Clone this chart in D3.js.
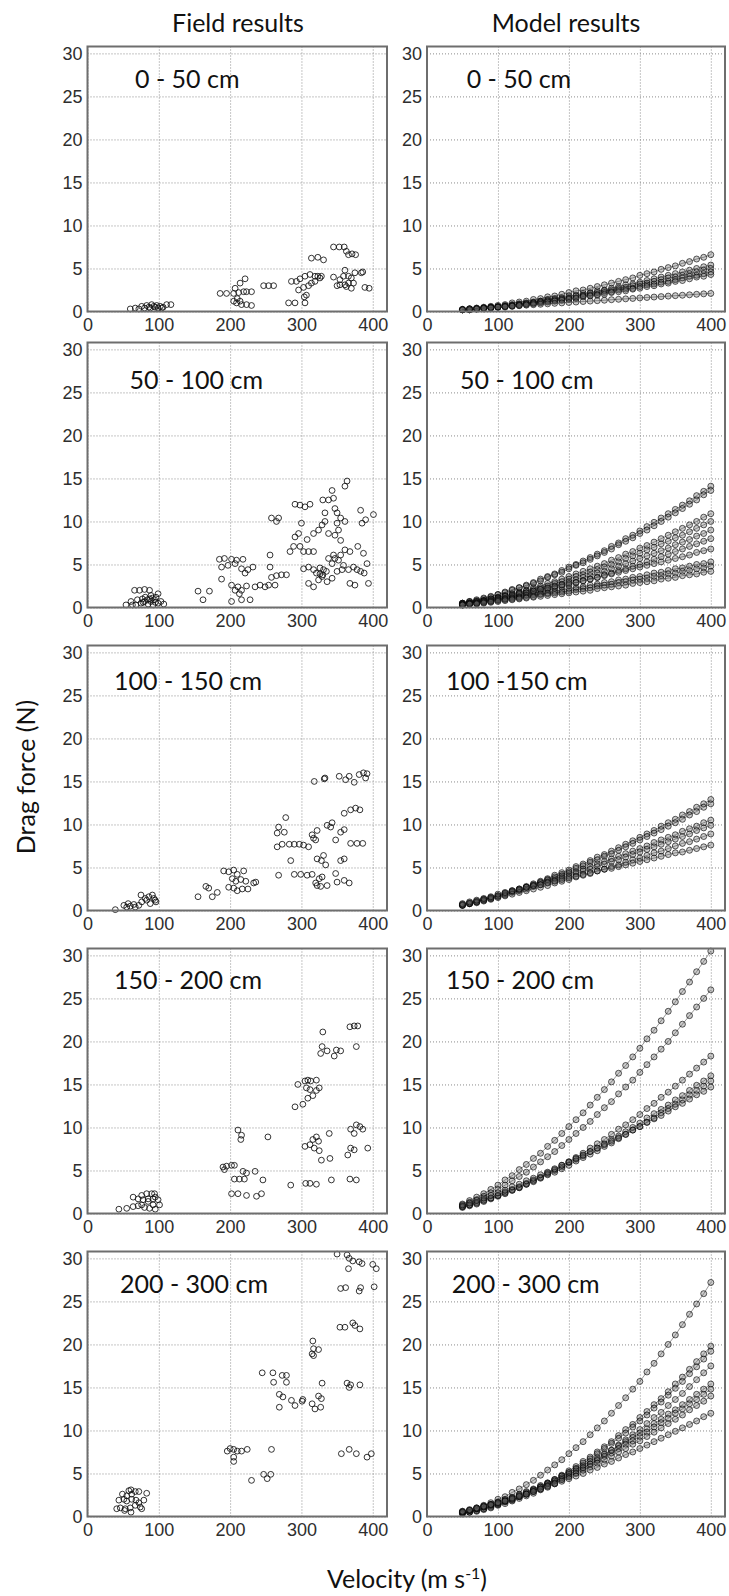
<!DOCTYPE html>
<html>
<head>
<meta charset="UTF-8">
<script src="https://cdn.jsdelivr.net/npm/d3@7/dist/d3.min.js"></script>
<style>
body { margin: 0; background: #fff; }
.tick text { font-family: "Liberation Sans", Arial, sans-serif; font-size: 18px; fill: #2e2e2e; }
.lbl { font-family: Lato, "Open Sans", sans-serif; fill: #111; }
</style>
</head>
<body>
<svg id="chart" width="729" height="1596"></svg>
<script>
// ticks and labels
const velTicks = [0, 100, 200, 300, 400];
const forceTicks = [0, 5, 10, 15, 20, 25, 30];
const fieldLabels = ["0 - 50 cm", "50 - 100 cm", "100 - 150 cm", "150 - 200 cm", "200 - 300 cm"];
const modelLabels = ["0 - 50 cm", "50 - 100 cm", "100 -150 cm", "150 - 200 cm", "200 - 300 cm"];

// model velocities (one marker every 10 m/s)
const speeds = [50,60,70,80,90,100,110,120,130,140,150,160,170,180,190,200,210,220,230,240,250,260,270,280,290,300,310,320,330,340,350,360,370,380,390,400];

// field measurements [velocity, drag force]
const field0 = [[60,0.3],[67,0.4],[72,0.3],[76,0.6],[80,0.4],[83,0.7],[86,0.5],[90,0.8],[93,0.6],[97,0.7],[99,0.4],[102,0.6],[106,0.5],[111,0.8],[117,0.8],[88,0.4],[95,0.5],[104,0.4],
[186,2.1],[195,2.1],[205,2.1],[212,2.2],[207,2.7],[214,3.3],[221,3.8],[219,2.3],[223,2.3],[230,2.3],[205,1.2],[209,1.0],[216,0.8],[223,0.8],[230,0.7],[214,1.2],[210,1.5],[247,3.0],[254,3.0],[261,3.0],
[282,1.0],[291,1.0],[305,1.0],[304,1.7],[307,1.9],[296,2.5],[303,2.8],[310,3.0],[314,3.3],[286,3.5],[293,3.5],[298,3.8],[305,4.1],[312,4.3],[319,4.1],[323,4.1],[328,4.1],[326,3.9],[319,3.5],[314,6.2],[323,6.3],[331,6.0],[345,7.5],[353,7.5],[360,7.5],[363,7.0],[371,6.7],[376,6.6],[366,6.6],[345,4.0],[354,3.7],[359,4.1],[366,4.1],[370,3.9],[375,4.5],[384,4.5],[361,4.8],[354,3.1],[361,3.1],[366,3.3],[370,2.7],[363,2.9],[373,3.3],[350,3.0],[389,2.8],[386,4.6],[395,2.7]];

const field1 = [[54,0.3],[61,0.7],[66,2.0],[73,2.0],[80,2.1],[87,2.0],[70,0.9],[75,0.5],[80,0.7],[85,0.4],[89,0.7],[94,0.9],[99,0.5],[103,0.7],[107,0.4],[81,1.2],[89,1.4],[96,1.2],[87,1.0],[77,1.0],[92,0.3],[68,0.3],[99,1.6],[63,0.3],[84,0.9],[91,1.1],[78,0.6],[95,0.6],
[155,1.9],[162,0.9],[171,1.9],[188,3.3],[185,5.6],[192,5.7],[202,5.6],[209,5.5],[218,5.6],[188,4.7],[197,4.9],[207,5.1],[216,4.5],[225,4.4],[232,4.7],[221,4.0],[202,2.6],[211,2.4],[216,2.0],[223,2.5],[207,2.0],[213,1.6],[202,0.7],[216,0.9],[228,0.9],[235,2.4],[242,2.6],
[249,2.4],[254,2.6],[258,3.5],[256,4.7],[256,6.1],[265,3.7],[272,3.8],[279,3.8],[258,10.4],[265,10.0],[268,10.4],[263,2.6],
[284,6.5],[289,7.1],[291,8.2],[291,12.0],[298,11.9],[305,11.7],[312,12.0],[300,9.8],[296,8.6],[303,6.5],[310,6.5],[317,6.5],[298,7.1],[308,7.9],[317,8.6],[324,9.0],[329,9.6],[333,10.0],[303,4.5],[310,4.7],[317,4.4],[321,4.0],[326,3.9],[331,4.4],[310,2.8],[317,2.4],[324,3.2],[329,3.6],[336,3.0],[343,3.4],[330,12.5],[338,12.5],[345,12.7],[343,13.6],[347,11.5],[350,11.0],[355,10.4],[361,10.0],[350,9.8],[361,14.1],[364,14.7],[338,8.6],[347,8.4],[352,9.0],[343,5.1],[347,5.7],[355,6.1],[361,6.7],[368,6.5],[359,4.9],[366,4.4],[373,4.7],[378,4.4],[383,4.2],[368,2.8],[375,2.6],[383,11.3],[385,9.8],[390,10.2],[379,7.1],[387,6.3],[394,2.8],[338,5.7],[345,6.1],[352,5.5],[357,4.4],[350,4.2],[355,7.8],[333,11.0],[401,10.8],[392,5.1],[388,4.0],[330,3.8],[326,4.6],[335,4.2]];

const field2 = [[39,0.1],[51,0.6],[57,0.8],[65,0.7],[72,0.6],[76,1.0],[83,1.2],[88,0.8],[93,1.4],[96,1.0],[75,1.8],[81,1.4],[86,1.6],[91,1.8],[95,1.2],[55,0.4],[60,0.5],[67,0.4],
[155,1.6],[166,2.8],[170,2.6],[175,1.6],[182,2.1],[191,4.6],[198,4.5],[205,4.7],[210,4.2],[219,4.6],[203,3.7],[208,3.4],[215,3.6],[222,3.4],[233,3.2],[198,2.7],[205,2.6],[210,2.3],[217,2.5],[225,2.5],[236,3.3],
[268,4.1],[266,9.0],[268,9.7],[278,10.8],[276,9.1],[266,7.4],[273,7.7],[283,7.7],[290,7.7],[297,7.7],[303,7.6],[310,7.4],[315,8.8],[317,8.4],[320,8.2],[322,9.3],[336,9.9],[341,9.7],[285,5.8],[290,4.2],[299,4.2],[308,4.1],[315,4.2],[320,3.2],[325,3.7],[329,3.9],[336,2.9],[322,2.9],[327,2.8],[322,6.0],[328,5.8],[331,6.4],[334,5.3],[348,4.3],[355,5.8],[360,6.0],[350,3.3],[360,3.5],[367,3.2],[318,15.0],[332,15.3],[333,15.4],[353,15.6],[362,15.2],[367,15.6],[374,14.9],[381,15.8],[392,15.9],[360,11.3],[369,11.7],[376,11.9],[382,11.7],[348,8.2],[355,9.1],[360,9.4],[369,7.8],[378,7.8],[386,7.8],[343,10.2],[387,16.0],[390,15.4]];

const field3 = [[44,0.5],[55,0.6],[64,0.8],[71,0.9],[64,1.9],[71,1.7],[76,2.1],[83,2.3],[90,2.3],[94,2.3],[78,1.6],[85,1.4],[92,1.7],[80,0.7],[87,0.6],[95,0.5],[101,1.0],[92,1.0],[76,1.0],[85,1.7],[95,1.9],[99,1.6],
[190,5.4],[192,5.1],[195,5.5],[202,5.6],[206,5.6],[218,4.9],[223,4.7],[235,4.9],[206,4.0],[213,4.0],[220,4.0],[246,3.9],[202,2.3],[211,2.3],[223,2.1],[237,2.0],[244,2.3],[211,9.7],[216,9.1],[215,8.6],[253,8.9],
[285,3.3],[306,3.5],[312,3.5],[321,3.4],[328,6.2],[340,6.4],[342,3.9],[368,4.0],[377,3.9],[291,12.4],[302,12.7],[295,15.0],[305,15.4],[309,15.5],[313,15.4],[321,15.5],[325,14.6],[307,14.6],[312,14.4],[316,13.7],[309,13.4],[321,14.3],[305,7.8],[312,8.0],[316,8.6],[321,8.9],[324,8.4],[318,7.6],[325,7.3],[330,21.1],[329,19.4],[327,18.6],[336,18.9],[346,18.3],[349,19.0],[355,18.9],[368,21.7],[374,21.8],[379,21.8],[377,19.4],[339,9.3],[369,9.8],[374,9.3],[377,10.3],[382,10.1],[386,9.8],[365,6.8],[369,7.6],[374,7.4],[393,7.6]];

const field4 = [[41,0.9],[46,1.0],[53,0.9],[60,1.0],[52,0.7],[61,0.5],[44,1.9],[51,2.0],[55,2.4],[58,3.0],[61,3.1],[67,2.9],[72,2.9],[83,2.7],[55,1.8],[62,2.0],[68,1.9],[72,1.6],[79,1.9],[74,1.1],[67,1.3],[76,0.9],[49,2.6],[62,2.6],
[196,7.6],[200,7.9],[205,7.8],[210,7.6],[216,7.6],[224,7.8],[205,6.9],[205,6.4],[230,4.2],[247,4.9],[252,4.4],[257,4.9],[258,7.8],[245,16.7],[260,16.7],[273,16.4],[279,16.4],[261,15.6],[279,15.6],[269,14.2],[274,13.9],[269,12.7],[286,13.5],[291,12.9],[301,13.4],[302,13.6],
[315,13.1],[319,12.5],[327,12.7],[324,14.0],[328,13.7],[329,15.5],[316,20.4],[317,19.5],[324,19.4],[315,18.9],[317,18.7],[350,30.5],[364,30.4],[367,30.0],[372,29.7],[381,29.6],[385,29.4],[366,28.8],[355,26.5],[362,26.6],[381,26.2],[383,26.6],[354,22.0],[361,22.0],[372,22.5],[375,22.2],[382,21.8],[364,15.5],[367,15.0],[369,15.3],[382,15.3],[356,7.3],[367,7.8],[377,7.3],[392,6.9],[400,29.3],[405,28.8],[402,26.7],[398,7.3]];

// model curves, drag force at each of the speeds above
const model0 = [
[0.2,0.3,0.4,0.5,0.6,0.7,0.8,1.0,1.1,1.2,1.4,1.5,1.7,1.8,2.0,2.2,2.4,2.5,2.7,2.9,3.1,3.3,3.5,3.7,3.9,4.2,4.4,4.6,4.9,5.1,5.3,5.6,5.8,6.1,6.3,6.6],
[0.2,0.3,0.3,0.4,0.5,0.6,0.7,0.8,0.9,1.0,1.1,1.2,1.4,1.5,1.6,1.8,1.9,2.1,2.2,2.4,2.5,2.7,2.9,3.1,3.2,3.4,3.6,3.8,4.0,4.2,4.4,4.6,4.8,5.0,5.2,5.4],
[0.2,0.2,0.3,0.4,0.5,0.5,0.6,0.7,0.8,0.9,1.0,1.2,1.3,1.4,1.5,1.6,1.8,1.9,2.1,2.2,2.4,2.5,2.7,2.8,3.0,3.2,3.3,3.5,3.7,3.9,4.0,4.2,4.4,4.6,4.8,5.0],
[0.2,0.2,0.3,0.4,0.4,0.5,0.6,0.7,0.8,0.9,1.0,1.1,1.2,1.3,1.4,1.5,1.6,1.8,1.9,2.0,2.2,2.3,2.5,2.6,2.7,2.9,3.1,3.2,3.4,3.5,3.7,3.9,4.1,4.2,4.4,4.6],
[0.2,0.2,0.3,0.3,0.4,0.5,0.5,0.6,0.7,0.8,0.9,1.0,1.1,1.2,1.3,1.4,1.5,1.7,1.8,1.9,2.0,2.2,2.3,2.4,2.6,2.7,2.9,3.0,3.2,3.3,3.5,3.6,3.8,4.0,4.1,4.3],
[0.26,0.32,0.37,0.42,0.47,0.53,0.58,0.63,0.68,0.74,0.79,0.84,0.89,0.95,1.0,1.05,1.1,1.16,1.21,1.26,1.31,1.37,1.42,1.47,1.52,1.58,1.63,1.68,1.73,1.79,1.84,1.89,1.94,2.0,2.05,2.1]];

const model1 = [
[0.5,0.7,0.9,1.1,1.3,1.5,1.8,2.1,2.3,2.6,2.9,3.3,3.6,3.9,4.3,4.7,5.0,5.4,5.8,6.2,6.6,7.1,7.5,8.0,8.4,8.9,9.4,9.9,10.4,10.9,11.4,11.9,12.4,13.0,13.5,14.1],
[0.5,0.7,0.8,1.0,1.2,1.5,1.7,2.0,2.3,2.5,2.8,3.1,3.5,3.8,4.1,4.5,4.9,5.2,5.6,6.0,6.4,6.8,7.3,7.7,8.1,8.6,9.0,9.5,10.0,10.5,11.0,11.5,12.0,12.5,13.1,13.6],
[0.4,0.5,0.7,0.8,1.0,1.2,1.4,1.6,1.8,2.0,2.3,2.5,2.8,3.0,3.3,3.6,3.9,4.2,4.5,4.8,5.1,5.5,5.8,6.2,6.5,6.9,7.2,7.6,8.0,8.4,8.8,9.2,9.6,10.0,10.5,10.9],
[0.4,0.5,0.6,0.8,0.9,1.1,1.3,1.5,1.7,1.9,2.1,2.3,2.5,2.8,3.0,3.3,3.6,3.8,4.1,4.4,4.7,5.0,5.3,5.7,6.0,6.3,6.7,7.0,7.4,7.7,8.1,8.4,8.8,9.2,9.6,10.0],
[0.3,0.4,0.6,0.7,0.8,1.0,1.1,1.3,1.5,1.7,1.9,2.1,2.3,2.5,2.7,3.0,3.2,3.5,3.7,4.0,4.2,4.5,4.8,5.1,5.4,5.7,6.0,6.3,6.6,6.9,7.3,7.6,7.9,8.3,8.6,9.0],
[0.3,0.4,0.5,0.6,0.7,0.9,1.0,1.2,1.3,1.5,1.7,1.8,2.0,2.2,2.4,2.6,2.9,3.1,3.3,3.5,3.8,4.0,4.3,4.5,4.8,5.0,5.3,5.6,5.9,6.2,6.5,6.8,7.1,7.4,7.7,8.0],
[0.5,0.6,0.7,0.8,1.0,1.1,1.3,1.4,1.6,1.7,1.9,2.1,2.2,2.4,2.6,2.8,2.9,3.1,3.3,3.5,3.7,3.9,4.1,4.3,4.5,4.7,4.9,5.1,5.3,5.5,5.7,5.9,6.1,6.4,6.6,6.8],
[0.4,0.5,0.5,0.7,0.8,0.9,1.0,1.1,1.2,1.4,1.5,1.6,1.7,1.9,2.0,2.2,2.3,2.4,2.6,2.7,2.9,3.0,3.2,3.3,3.5,3.6,3.8,4.0,4.1,4.3,4.5,4.6,4.8,5.0,5.1,5.3],
[0.3,0.4,0.5,0.6,0.7,0.8,0.9,1.0,1.1,1.2,1.3,1.5,1.6,1.7,1.8,1.9,2.1,2.2,2.3,2.5,2.6,2.7,2.9,3.0,3.2,3.3,3.4,3.6,3.7,3.9,4.0,4.2,4.3,4.5,4.6,4.8],
[0.3,0.4,0.4,0.5,0.6,0.7,0.8,0.9,1.0,1.1,1.2,1.3,1.4,1.5,1.6,1.7,1.8,1.9,2.0,2.2,2.3,2.4,2.5,2.6,2.8,2.9,3.0,3.1,3.3,3.4,3.5,3.7,3.8,3.9,4.1,4.2]];

const model2 = [
[0.6,0.8,1.0,1.3,1.5,1.7,2.0,2.3,2.5,2.8,3.1,3.4,3.7,4.1,4.4,4.7,5.1,5.4,5.8,6.2,6.5,6.9,7.3,7.7,8.1,8.5,8.9,9.3,9.8,10.2,10.6,11.1,11.5,12.0,12.4,12.9],
[0.6,0.8,1.0,1.2,1.4,1.7,1.9,2.2,2.4,2.7,3.0,3.3,3.6,3.9,4.2,4.5,4.9,5.2,5.6,5.9,6.3,6.6,7.0,7.4,7.8,8.2,8.6,9.0,9.4,9.8,10.2,10.6,11.1,11.5,12.0,12.4],
[0.7,0.9,1.1,1.3,1.5,1.7,2.0,2.2,2.4,2.7,2.9,3.2,3.5,3.7,4.0,4.3,4.5,4.8,5.1,5.4,5.7,6.0,6.3,6.6,6.9,7.2,7.5,7.9,8.2,8.5,8.8,9.2,9.5,9.8,10.2,10.5],
[0.7,0.8,1.0,1.2,1.4,1.6,1.8,2.1,2.3,2.5,2.8,3.0,3.3,3.5,3.8,4.0,4.3,4.6,4.8,5.1,5.4,5.7,5.9,6.2,6.5,6.8,7.1,7.4,7.7,8.0,8.3,8.6,8.9,9.3,9.6,9.9],
[0.6,0.8,0.9,1.1,1.3,1.5,1.7,1.9,2.1,2.3,2.5,2.7,2.9,3.2,3.4,3.6,3.9,4.1,4.3,4.6,4.8,5.1,5.3,5.6,5.9,6.1,6.4,6.7,6.9,7.2,7.5,7.8,8.0,8.3,8.6,8.9],
[0.8,1.0,1.2,1.4,1.6,1.9,2.1,2.3,2.5,2.7,2.9,3.0,3.2,3.4,3.6,3.8,4.0,4.2,4.4,4.6,4.8,4.9,5.1,5.3,5.5,5.7,5.9,6.1,6.3,6.5,6.7,6.8,7.0,7.2,7.4,7.6]];

const model3 = [
[1.1,1.5,1.9,2.3,2.8,3.3,3.9,4.4,5.1,5.7,6.4,7.0,7.8,8.5,9.3,10.1,10.9,11.7,12.6,13.5,14.4,15.3,16.3,17.2,18.2,19.2,20.3,21.3,22.4,23.5,24.6,25.8,26.9,28.1,29.3,30.5],
[0.9,1.3,1.6,2.0,2.4,2.8,3.3,3.8,4.3,4.8,5.4,6.0,6.6,7.2,7.9,8.6,9.3,10.0,10.7,11.5,12.3,13.0,13.9,14.7,15.5,16.4,17.3,18.2,19.1,20.0,21.0,22.0,23.0,24.0,25.0,26.0],
[0.7,0.9,1.1,1.4,1.7,2.0,2.3,2.7,3.0,3.4,3.8,4.2,4.7,5.1,5.6,6.0,6.5,7.0,7.6,8.1,8.6,9.2,9.8,10.3,10.9,11.5,12.2,12.8,13.5,14.1,14.8,15.5,16.2,16.9,17.6,18.3],
[0.8,1.0,1.3,1.6,1.8,2.1,2.5,2.8,3.1,3.5,3.9,4.2,4.6,5.0,5.4,5.9,6.3,6.7,7.2,7.6,8.1,8.6,9.0,9.5,10.0,10.5,11.1,11.6,12.1,12.6,13.2,13.7,14.3,14.9,15.4,16.0],
[0.8,1.0,1.2,1.5,1.8,2.1,2.4,2.7,3.0,3.4,3.7,4.1,4.5,4.8,5.2,5.6,6.1,6.5,6.9,7.3,7.8,8.2,8.7,9.2,9.7,10.1,10.6,11.1,11.7,12.2,12.7,13.2,13.8,14.3,14.8,15.4],
[1.0,1.2,1.5,1.8,2.1,2.4,2.7,3.1,3.4,3.8,4.1,4.5,4.8,5.2,5.6,6.0,6.4,6.8,7.2,7.6,8.0,8.4,8.8,9.2,9.7,10.1,10.6,11.0,11.4,11.9,12.4,12.8,13.3,13.8,14.2,14.7]];

const model4 = [
[0.5,0.7,1.0,1.3,1.6,2.0,2.3,2.8,3.2,3.7,4.2,4.8,5.4,6.0,6.6,7.3,8.0,8.7,9.5,10.3,11.1,12.0,12.9,13.8,14.8,15.7,16.8,17.8,18.9,20.0,21.1,22.3,23.5,24.7,25.9,27.2],
[0.4,0.5,0.7,0.9,1.2,1.4,1.7,2.0,2.3,2.7,3.1,3.5,3.9,4.3,4.8,5.3,5.8,6.4,6.9,7.5,8.1,8.7,9.4,10.1,10.7,11.5,12.2,13.0,13.7,14.5,15.4,16.2,17.1,18.0,18.9,19.8],
[0.4,0.5,0.7,0.9,1.1,1.4,1.7,1.9,2.3,2.6,3.0,3.4,3.8,4.2,4.7,5.1,5.6,6.2,6.7,7.3,7.9,8.5,9.1,9.7,10.4,11.1,11.8,12.6,13.3,14.1,14.9,15.7,16.6,17.4,18.3,19.2],
[0.3,0.5,0.6,0.8,1.0,1.3,1.5,1.8,2.1,2.4,2.7,3.1,3.4,3.8,4.3,4.7,5.1,5.6,6.1,6.6,7.2,7.7,8.3,8.9,9.5,10.1,10.8,11.5,12.1,12.9,13.6,14.3,15.1,15.9,16.7,17.5],
[0.6,0.7,0.9,1.2,1.4,1.7,2.0,2.2,2.6,2.9,3.2,3.6,3.9,4.3,4.7,5.1,5.5,5.9,6.4,6.8,7.3,7.7,8.2,8.7,9.2,9.7,10.2,10.8,11.3,11.9,12.4,13.0,13.6,14.2,14.8,15.4],
[0.5,0.7,0.9,1.1,1.4,1.6,1.9,2.2,2.5,2.8,3.1,3.4,3.8,4.1,4.5,4.9,5.3,5.7,6.1,6.5,7.0,7.4,7.9,8.4,8.8,9.3,9.8,10.4,10.9,11.4,12.0,12.5,13.1,13.6,14.2,14.8],
[0.5,0.7,0.9,1.1,1.3,1.5,1.8,2.0,2.3,2.6,2.9,3.2,3.6,3.9,4.3,4.6,5.0,5.4,5.8,6.2,6.6,7.0,7.5,7.9,8.4,8.8,9.3,9.8,10.3,10.8,11.3,11.8,12.4,12.9,13.4,14.0],
[0.6,0.8,1.0,1.2,1.4,1.6,1.8,2.1,2.4,2.6,2.9,3.2,3.5,3.8,4.1,4.4,4.7,5.0,5.4,5.7,6.1,6.4,6.8,7.2,7.5,7.9,8.3,8.7,9.1,9.5,9.9,10.3,10.7,11.1,11.6,12.0]];

const fieldSets = [field0, field1, field2, field3, field4];
const modelSets = [model0, model1, model2, model3, model4];

// layout
const rowTop = [46.5, 342.5, 645.5, 948.5, 1251.5];
const plotH = 265;
const colLeft = [87.5, 427];
const colW = [299.5, 298];
const labelDx = [[47.5, 42, 26.5, 26.5, 32.5], [39.7, 33, 19, 19, 24.7]];
const labelDy = [41, 46, 44, 40.5, 41.5];

const svg = d3.select("#chart");
svg.append("rect").attr("width", 729).attr("height", 1596).attr("fill", "#fff");

function drawPanel(row, col) {
    const w = colW[col];
    const g = svg.append("g").attr("transform", "translate(" + colLeft[col] + "," + rowTop[row] + ")");
    const x = d3.scaleLinear().domain([0, 420]).range([0, w]);
    const y = d3.scaleLinear().domain([0, 30.8]).range([plotH, 0]);

    const gx = g.append("g")
        .attr("transform", "translate(0," + plotH + ")")
        .call(d3.axisBottom(x).tickValues(velTicks).tickSize(-plotH).tickPadding(7));
    const gy = g.append("g")
        .call(d3.axisLeft(y).tickValues(forceTicks).tickSize(-w).tickPadding(5));
    [gx, gy].forEach(function(a) {
        a.select(".domain").remove();
        a.selectAll(".tick line").attr("stroke", "#8c8c8c").attr("stroke-dasharray", "1,2").attr("stroke-width", 1);
    });
    gy.selectAll(".tick text").attr("dy", "0.36em");

    if (col == 0) {
        g.append("g").selectAll("circle")
            .data(fieldSets[row])
            .enter().append("circle")
            .attr("cx", function(d) { return x(d[0]); })
            .attr("cy", function(d) { return y(d[1]); })
            .attr("r", 2.9)
            .attr("fill", "none")
            .attr("stroke", "#111")
            .attr("stroke-width", 0.85);
    } else {
        const line = d3.line()
            .x(function(d, i) { return x(speeds[i]); })
            .y(function(d) { return y(d); });
        const curves = g.append("g");
        modelSets[row].forEach(function(c) {
            curves.append("path")
                .attr("d", line(c))
                .attr("fill", "none")
                .attr("stroke", "#444")
                .attr("stroke-opacity", 0.7)
                .attr("stroke-width", 0.8);
            curves.append("g").selectAll("circle")
                .data(c)
                .enter().append("circle")
                .attr("cx", function(d, i) { return x(speeds[i]); })
                .attr("cy", function(d) { return y(d); })
                .attr("r", 3)
                .attr("fill", "#555")
                .attr("fill-opacity", 0.3)
                .attr("stroke", "#000")
                .attr("stroke-opacity", 0.62)
                .attr("stroke-width", 1);
        });
    }

    g.append("rect")
        .attr("width", w).attr("height", plotH)
        .attr("fill", "none")
        .attr("stroke", "#6e6e6e")
        .attr("stroke-width", 2);

    g.append("text")
        .attr("class", "lbl")
        .attr("x", labelDx[col][row])
        .attr("y", labelDy[row])
        .attr("font-size", 25)
        .text(col == 0 ? fieldLabels[row] : modelLabels[row]);
}

for (let r = 0; r < 5; r++) {
    drawPanel(r, 0);
    drawPanel(r, 1);
}

// titles
svg.append("text").attr("class", "lbl").attr("x", 238).attr("y", 32)
    .attr("text-anchor", "middle").attr("font-size", 25).text("Field results");
svg.append("text").attr("class", "lbl").attr("x", 566).attr("y", 32)
    .attr("text-anchor", "middle").attr("font-size", 25).text("Model results");

svg.append("text").attr("class", "lbl")
    .attr("transform", "translate(35,777) rotate(-90)")
    .attr("text-anchor", "middle").attr("font-size", 25).text("Drag force (N)");

const xl = svg.append("text").attr("class", "lbl").attr("x", 407).attr("y", 1588)
    .attr("text-anchor", "middle").attr("font-size", 25);
xl.append("tspan").text("Velocity (m s");
xl.append("tspan").attr("dy", -9).attr("font-size", 16).text("-1");
xl.append("tspan").attr("dy", 9).text(")");
</script>
</body>
</html>
